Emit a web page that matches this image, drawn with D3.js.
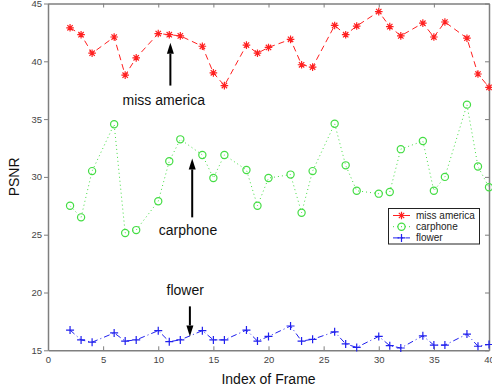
<!DOCTYPE html>
<html><head><meta charset="utf-8">
<script src="https://cdn.jsdelivr.net/npm/d3@7"></script>
<style>body{margin:0;background:#fff}svg{display:block}text{font-family:"Liberation Sans",Arial,sans-serif}</style>
</head><body><svg id="c" width="492" height="391"></svg>
<script>
const frames = [2,3,4,6,7,8,10,11,12,14,15,16,18,19,20,22,23,24,26,27,28,30,31,32,34,35,36,38,39,40];
const missAmerica = [42.9,42.3,40.7,42.1,38.8,40.3,42.4,42.3,42.2,41.3,39.0,37.9,41.4,40.7,41.2,41.9,39.7,39.5,43.1,42.3,43.05,44.3,43.0,42.2,43.3,42.1,43.4,42.0,38.9,37.75];
const carphone = [27.5,26.5,30.5,34.55,25.15,25.4,27.9,31.35,33.25,31.9,29.9,31.9,30.6,27.5,29.9,30.2,26.9,30.5,34.6,31.0,28.8,28.55,28.7,32.4,33.1,28.8,30.0,36.25,30.9,29.1];
const flower = [16.75,15.9,15.7,16.5,15.8,15.9,16.7,15.75,15.9,16.7,15.9,15.9,16.75,15.8,16.2,17.1,15.8,15.95,16.6,15.55,15.25,16.2,15.4,15.2,16.25,15.45,15.45,16.4,15.35,15.5];
const seriesNames = ["miss america","carphone","flower"];
const xTicks = [0,5,10,15,20,25,30,35,40];
const yTicks = [15,20,25,30,35,40,45];
// annotations: [label, textX, textY, arrowX, arrowFromY, arrowToY]
const annotations = [
  ["miss america", 10.5, 36.2, 11.1, 37.9, 41.6],
  ["carphone", 12.7, 25.0, 13.08, 26.5, 31.6],
  ["flower", 12.45, 19.8, 12.87, 18.8, 16.2]
];

const svg = d3.select("#c");
const x = d3.scaleLinear().domain([0,40]).range([48,489]);
const y = d3.scaleLinear().domain([15,45]).range([350.3,3.5]);
const axisColor = "#7f7f7f";

const styles = [
  {color:"#ff2020", dash:"6,4", marker:"star"},
  {color:"#44dd44", dash:"1,3", marker:"circle"},
  {color:"#2020ee", dash:"6,3,1,3", marker:"plus"}
];
const data = [missAmerica, carphone, flower];

function styleAxis(g){
  g.select(".domain").attr("stroke",axisColor).attr("stroke-width",1.5);
  g.selectAll(".tick line").attr("stroke",axisColor);
  g.selectAll(".tick text").attr("fill","#444").style("font-size","9.5px");
}
svg.append("g").attr("transform",`translate(0,${y(15)})`)
  .call(d3.axisBottom(x).tickValues(xTicks).tickSizeInner(-4).tickSizeOuter(0).tickPadding(6))
  .call(styleAxis);
svg.append("g").attr("transform",`translate(0,${y(45)})`)
  .call(d3.axisTop(x).tickValues(xTicks).tickSizeInner(-4).tickSizeOuter(0).tickFormat(""))
  .call(styleAxis);
svg.append("g").attr("transform",`translate(${x(0)},0)`)
  .call(d3.axisLeft(y).tickValues(yTicks).tickSizeInner(4).tickSizeOuter(0).tickPadding(2))
  .call(styleAxis);
svg.append("g").attr("transform",`translate(${x(40)},0)`)
  .call(d3.axisRight(y).tickValues(yTicks).tickSizeInner(-4).tickSizeOuter(0).tickFormat(""))
  .call(styleAxis);

svg.append("text").attr("x",(x(0)+x(40))/2).attr("y",384).attr("text-anchor","middle")
  .style("font-size","14px").attr("fill","#111").text("Index of Frame");
svg.append("text").attr("transform",`translate(19,${(y(15)+y(45))/2}) rotate(-90)`)
  .attr("text-anchor","middle").style("font-size","14px").attr("fill","#111").text("PSNR");

function drawMarker(g, type, color, cx, cy){
  if(type==="star"){
    const r=3.8;
    let d="";
    for(let a=0;a<4;a++){
      const ang=a*Math.PI/4;
      d+=`M${cx-r*Math.cos(ang)},${cy-r*Math.sin(ang)}L${cx+r*Math.cos(ang)},${cy+r*Math.sin(ang)}`;
    }
    g.append("path").attr("d",d).attr("fill","none").attr("stroke",color).attr("stroke-width",1.2);
  } else if(type==="circle"){
    g.append("circle").attr("cx",cx).attr("cy",cy).attr("r",3.6).attr("fill","none").attr("stroke",color).attr("stroke-width",1.2);
  } else {
    const r=4;
    g.append("path").attr("d",`M${cx-r},${cy}L${cx+r},${cy}M${cx},${cy-r}L${cx},${cy+r}`)
      .attr("fill","none").attr("stroke",color).attr("stroke-width",1.2);
  }
}

const line = d3.line().x(d=>x(d[0])).y(d=>y(d[1]));
data.forEach((vals,i)=>{
  const st = styles[i];
  const pts = frames.map((f,j)=>[f,vals[j]]);
  const g = svg.append("g");
  g.append("path").attr("d",line(pts)).attr("fill","none").attr("stroke",st.color)
    .attr("stroke-width",1).attr("stroke-dasharray",st.dash);
  pts.forEach(p=>drawMarker(g, st.marker, st.color, x(p[0]), y(p[1])));
});

annotations.forEach(a=>{
  const [label,tx,ty,ax,fy,toY] = a;
  svg.append("text").attr("x",x(tx)).attr("y",y(ty)).attr("text-anchor","middle")
    .style("font-size","14px").attr("fill","#111").text(label);
  const x0=x(ax), y0=y(fy), y1=y(toY);
  const dir = y1<y0 ? 1 : -1;
  const headLen=11, headW=3.5;
  svg.append("line").attr("x1",x0).attr("x2",x0).attr("y1",y0).attr("y2",y1+dir*headLen)
    .attr("stroke","#000").attr("stroke-width",2);
  svg.append("path").attr("d",`M${x0},${y1}L${x0-headW},${y1+dir*headLen}L${x0+headW},${y1+dir*headLen}Z`)
    .attr("fill","#000");
});

const lg = svg.append("g");
lg.append("rect").attr("x",388.5).attr("y",208.5).attr("width",91).attr("height",35.5)
  .attr("fill","#fff").attr("stroke","#222").attr("stroke-width",1);
seriesNames.forEach((n,i)=>{
  const yy = 215.5 + i*11.2;
  const st = styles[i];
  lg.append("line").attr("x1",393).attr("x2",410).attr("y1",yy).attr("y2",yy)
    .attr("stroke",st.color).attr("stroke-dasharray",i===0?null:st.dash);
  drawMarker(lg, st.marker, st.color, 401.5, yy);
  lg.append("text").attr("x",416).attr("y",yy+3.5).style("font-size","10px").attr("fill","#222").text(n);
});
</script></body></html>
